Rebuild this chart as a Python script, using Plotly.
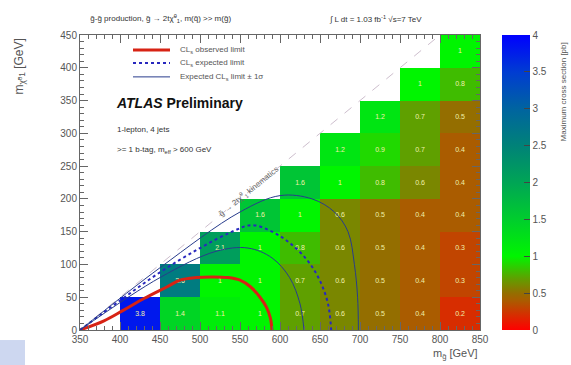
import plotly.graph_objects as go

# Grid of gluino / neutralino mass points (bin centres, GeV)
m_gluino = [425, 475, 525, 575, 625, 675, 725, 775, 825]
m_neutralino = [25, 75, 125, 175, 225, 275, 325, 375, 425]

# Maximum allowed cross section [pb]; rows follow m_neutralino, columns m_gluino
N = None
max_xsec = [
    [3.8, 1.4, 1.1, 1.0, 0.7, 0.6, 0.5, 0.4, 0.2],
    [N, 2.6, 1.0, 1.0, 0.7, 0.6, 0.5, 0.4, 0.3],
    [N, N, 2.1, 1.0, 0.8, 0.6, 0.5, 0.4, 0.3],
    [N, N, N, 1.6, 1.0, 0.6, 0.5, 0.4, 0.4],
    [N, N, N, N, 1.6, 1.0, 0.8, 0.6, 0.4],
    [N, N, N, N, N, 1.2, 0.9, 0.7, 0.4],
    [N, N, N, N, N, N, 1.2, 0.7, 0.5],
    [N, N, N, N, N, N, N, 1.0, 0.8],
    [N, N, N, N, N, N, N, N, 1.0],
]

# Exclusion contours (m_gluino, m_neutralino)
obs_x = [350, 380, 404, 430, 459, 475, 495, 516, 535, 550, 563, 575, 583, 588, 590]
obs_y = [0, 14, 30, 48, 66, 76, 80, 81, 80, 76, 66, 50, 35, 18, 0]

exp_x = [350, 400, 450, 500, 540, 565, 590, 612, 635, 650, 660, 664]
exp_y = [0, 45, 88, 125, 150, 160, 150, 133, 105, 75, 40, 0]

exp_minus_x = [350, 450, 520, 560, 590, 612, 625, 630]
exp_minus_y = [0, 80, 120, 125, 110, 80, 40, 0]

exp_plus_x = [350, 450, 550, 600, 640, 668, 685, 693, 697, 698]
exp_plus_y = [0, 95, 180, 205, 200, 180, 150, 100, 50, 0]

# Kinematic boundary m_gluino = 2 m_top + m_neutralino
kin_x = [350, 800]
kin_y = [0, 450]

cbar_ticks = [0, 0.5, 1, 1.5, 2, 2.5, 3, 3.5, 4]

cell_text = [["" if v is None else f"{v:g}" for v in row] for row in max_xsec]

colorscale = [
    [0.0, "rgb(255,0,0)"],
    [0.05, "rgb(215,45,0)"],
    [0.1, "rgb(170,92,0)"],
    [0.125, "rgb(148,110,0)"],
    [0.15, "rgb(122,135,0)"],
    [0.175, "rgb(95,160,0)"],
    [0.25, "rgb(0,245,0)"],
    [0.375, "rgb(0,205,45)"],
    [0.5, "rgb(0,165,85)"],
    [0.625, "rgb(0,130,120)"],
    [0.75, "rgb(0,100,160)"],
    [0.875, "rgb(0,60,210)"],
    [1.0, "rgb(0,0,255)"],
]

fig = go.Figure()

fig.add_trace(go.Heatmap(
    x=m_gluino, y=m_neutralino, z=max_xsec,
    zmin=0, zmax=4, colorscale=colorscale,
    text=cell_text, texttemplate="%{text}",
    textfont=dict(size=7, color="rgb(240,240,170)", family="Liberation Sans"),
    hoverongaps=False,
    colorbar=dict(
        x=502 / 571, xref="container", xanchor="left",
        thickness=28, len=1.0, y=0.5, yanchor="middle", ypad=0, xpad=0,
        outlinewidth=0, ticks="inside", ticklen=6,
        tickvals=cbar_ticks, ticktext=[f"{t:g}" for t in cbar_ticks],
        tickfont=dict(size=10, color="#555", family="Liberation Sans"),
    ),
    showlegend=False,
))

fig.add_trace(go.Scatter(
    x=kin_x, y=kin_y, mode="lines",
    line=dict(color="rgb(205,190,205)", width=1, dash="dash"),
    showlegend=False, hoverinfo="skip",
))

line_styles = {
    "obs": dict(color="rgb(215,35,20)", width=3),
    "exp": dict(color="rgb(40,40,190)", width=2, dash="dot"),
    "sig": dict(color="rgb(40,60,140)", width=1),
}

fig.add_trace(go.Scatter(x=obs_x, y=obs_y, mode="lines", line_shape="spline",
                         line=line_styles["obs"], showlegend=False))
fig.add_trace(go.Scatter(x=exp_x, y=exp_y, mode="lines", line_shape="spline",
                         line=line_styles["exp"], showlegend=False))
fig.add_trace(go.Scatter(x=exp_plus_x, y=exp_plus_y, mode="lines", line_shape="spline",
                         line=line_styles["sig"], showlegend=False))
fig.add_trace(go.Scatter(x=exp_minus_x, y=exp_minus_y, mode="lines", line_shape="spline",
                         line=line_styles["sig"], showlegend=False))

axis_font = dict(size=10, color="#555", family="Liberation Sans")

fig.update_xaxes(
    range=[350, 850], tickvals=[350, 400, 450, 500, 550, 600, 650, 700, 750, 800, 850],
    ticks="inside", ticklen=8, tickcolor="#666", tickfont=axis_font,
    minor=dict(ticks="inside", ticklen=4, dtick=10, tickcolor="#666"),
    showline=True, linecolor="#666", mirror="ticks", showgrid=False, zeroline=False,
)
fig.update_yaxes(
    range=[0, 450], tickvals=[0, 50, 100, 150, 200, 250, 300, 350, 400, 450],
    ticks="inside", ticklen=8, tickcolor="#666", tickfont=axis_font,
    minor=dict(ticks="inside", ticklen=4, dtick=10, tickcolor="#666"),
    showline=True, linecolor="#666", mirror="ticks", showgrid=False, zeroline=False,
)

# Hand-drawn legend (compact row spacing)
legend_rows = [
    ("CL<sub>s</sub> observed limit", "obs", 0.949),
    ("CL<sub>s</sub> expected limit", "exp", 0.905),
    ("Expected CL<sub>s</sub> limit ± 1σ", "sig", 0.858),
]
shapes = [dict(type="rect", xref="paper", yref="paper",
               x0=-0.2, x1=-0.1375, y0=-0.1186, y1=-0.034,
               fillcolor="rgb(205,215,240)", line=dict(width=0), layer="below")]
annotations = []
for label, key, ypos in legend_rows:
    shapes.append(dict(type="line", xref="paper", yref="paper",
                       x0=0.1325, x1=0.225, y0=ypos, y1=ypos, line=line_styles[key]))
    annotations.append(dict(x=0.245, y=ypos, xref="paper", yref="paper",
                            xanchor="left", yanchor="middle", text=label, showarrow=False,
                            font=dict(size=8, color="#555", family="Liberation Sans")))

annotations += [
    dict(x=0.02, y=1.055, xref="paper", yref="paper", xanchor="left", yanchor="middle",
         text="g̃-g̃ production, g̃ → 2tχ̃<sup>0</sup><sub>1</sub>, m(q̃) >> m(g̃)",
         showarrow=False, font=dict(size=8, color="#333", family="Liberation Sans")),
    dict(x=0.6175, y=1.055, xref="paper", yref="paper", xanchor="left", yanchor="middle",
         text="∫ L dt = 1.03 fb<sup>-1</sup> √s=7 TeV",
         showarrow=False, font=dict(size=8, color="#333", family="Liberation Sans")),
    dict(x=0.085, y=0.77, xref="paper", yref="paper", xanchor="left", yanchor="middle",
         text="<b><i>ATLAS</i> Preliminary</b>",
         showarrow=False, font=dict(size=14, color="#111", family="Liberation Sans")),
    dict(x=0.088, y=0.678, xref="paper", yref="paper", xanchor="left", yanchor="middle",
         text="1-lepton, 4 jets",
         showarrow=False, font=dict(size=8, color="#333", family="Liberation Sans")),
    dict(x=0.088, y=0.61, xref="paper", yref="paper", xanchor="left", yanchor="middle",
         text=">= 1 b-tag, m<sub>eff</sub> > 600 GeV",
         showarrow=False, font=dict(size=8, color="#333", family="Liberation Sans")),
    dict(x=560, y=212, xref="x", yref="y", xanchor="center", yanchor="middle",
         text="g̃ → 2tχ̃<sup>0</sup><sub>1</sub> kinematics", textangle=-39,
         showarrow=False, font=dict(size=8, color="#666", family="Liberation Sans")),
    dict(x=1.0, y=-0.05, xref="paper", yref="paper", xanchor="right", yanchor="top",
         text="m<sub>g̃</sub> [GeV]",
         showarrow=False, font=dict(size=11, color="#555", family="Liberation Sans")),
    dict(x=-0.15, y=0.995, xref="paper", yref="paper", xanchor="center", yanchor="top",
         text="m<sub>χ̃<sup>0</sup>1</sub> [GeV]", textangle=-90,
         showarrow=False, font=dict(size=12, color="#555", family="Liberation Sans")),
    dict(x=1.2075, y=0.98, xref="paper", yref="paper", xanchor="center", yanchor="top",
         text="Maximum cross section [pb]", textangle=-90,
         showarrow=False, font=dict(size=8, color="#555", family="Liberation Sans")),
]

fig.update_layout(
    width=571, height=365,
    margin=dict(l=80, r=91, t=35, b=35, autoexpand=False),
    paper_bgcolor="white", plot_bgcolor="white",
    showlegend=False,
    annotations=annotations,
    shapes=shapes,
)

fig.write_html("out.html")
